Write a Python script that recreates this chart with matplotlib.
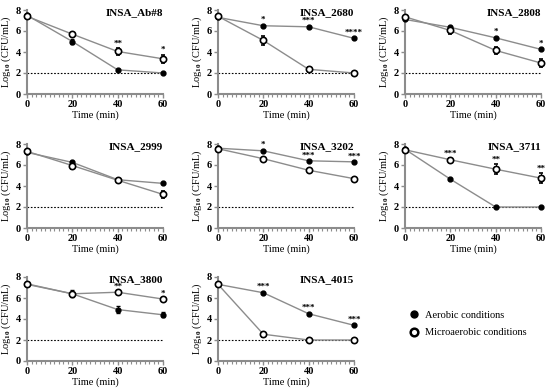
import matplotlib
matplotlib.use("Agg")
import matplotlib.pyplot as plt
from matplotlib.lines import Line2D

plt.rcParams['font.family'] = 'Liberation Serif'
plt.rcParams['font.weight'] = 'bold'
plt.rcParams['mathtext.fontset'] = 'custom'
plt.rcParams['mathtext.rm'] = 'Liberation Serif:bold'
plt.rcParams['mathtext.default'] = 'rm'

times = [0, 20, 40, 60]

strains = ["INSA_Ab#8", "INSA_2680", "INSA_2808",
           "INSA_2999", "INSA_3202", "INSA_3711",
           "INSA_3800", "INSA_4015"]

aerobic = [
    [7.5, 5.0, 2.3, 2.0],
    [7.3, 6.5, 6.4, 5.3],
    [7.1, 6.35, 5.35, 4.25],
    [7.2, 6.25, 4.6, 4.25],
    [7.6, 7.35, 6.4, 6.3],
    [7.5, 4.65, 2.0, 2.0],
    [7.3, 6.4, 4.9, 4.4],
    [7.3, 6.5, 4.5, 3.4],
]
aerobic_err = [
    [0, 0.25, 0.05, 0],
    [0, 0.1, 0.1, 0.1],
    [0, 0.1, 0.1, 0.1],
    [0, 0.1, 0.1, 0.05],
    [0, 0.1, 0.05, 0.05],
    [0, 0.05, 0, 0],
    [0, 0.35, 0.35, 0.25],
    [0, 0.1, 0.1, 0.1],
]
micro = [
    [7.4, 5.7, 4.05, 3.35],
    [7.4, 5.1, 2.35, 2.0],
    [7.35, 6.05, 4.15, 2.95],
    [7.3, 5.95, 4.55, 3.2],
    [7.55, 6.6, 5.5, 4.7],
    [7.45, 6.5, 5.6, 4.75],
    [7.35, 6.4, 6.55, 5.9],
    [7.3, 2.55, 2.0, 2.0],
]
micro_err = [
    [0.1, 0.1, 0.3, 0.4],
    [0.1, 0.4, 0.25, 0],
    [0.1, 0.3, 0.35, 0.35],
    [0.1, 0.3, 0.1, 0.35],
    [0.05, 0.1, 0.1, 0.1],
    [0.05, 0.15, 0.5, 0.5],
    [0.05, 0.1, 0.1, 0.1],
    [0.05, 0.25, 0, 0],
]
# significance marks (time, label)
stars = [
    {40: "**", 60: "*"},
    {20: "*", 40: "***", 60: "****"},
    {40: "*", 60: "*"},
    {},
    {20: "*", 40: "***", 60: "***"},
    {20: "***", 40: "**", 60: "**"},
    {40: "**", 60: "*"},
    {20: "***", 40: "***", 60: "***"},
]

W, H = 550, 388
fig = plt.figure(figsize=(W / 100, H / 100), dpi=100)

col_left = [27, 218, 405]
row_top = [10, 144, 277]
aw, ah = 136, 84

gray = "#8c8c8c"

for i, name in enumerate(strains):
    r, c = divmod(i, 3)
    ax = fig.add_axes([col_left[c] / W, 1 - (row_top[r] + ah) / H, aw / W, ah / H])
    ax.axhline(2, color="black", ls=(0, (1.5, 1.5)), lw=0.8, zorder=1)
    ax.errorbar(times, aerobic[i], yerr=aerobic_err[i], color=gray, lw=1,
                marker="o", ms=3.5, mfc="black", mec="black",
                ecolor="black", elinewidth=0.7, capsize=1.5, clip_on=False, zorder=3)
    ax.errorbar(times, micro[i], yerr=micro_err[i], color=gray, lw=1,
                marker="o", ms=4.5, mfc="white", mec="black", mew=1.2,
                ecolor="black", elinewidth=0.7, capsize=1.5, clip_on=False, zorder=4)
    for t, s in stars[i].items():
        k = times.index(t)
        top = max(aerobic[i][k] + aerobic_err[i][k], micro[i][k] + micro_err[i][k])
        ax.text(t, top + 0.05, s, ha="center", va="bottom", fontsize=6.5)
    ax.set_xlim(0, 60)
    ax.set_ylim(0, 8)
    ax.set_xticks([0, 20, 40, 60])
    ax.set_xticks(range(0, 61, 2), minor=True)
    ax.set_yticks([0, 2, 4, 6, 8])
    for side in ["top", "right"]:
        ax.spines[side].set_visible(False)
    for side in ["left", "bottom"]:
        ax.spines[side].set_color(gray)
        ax.spines[side].set_linewidth(1.5)
    ax.tick_params(axis="both", which="major", length=3, width=1, color=gray,
                   labelsize=7.5, pad=1.5)
    ax.tick_params(axis="x", which="minor", length=2, width=0.8, color=gray)
    ax.set_xlabel("Time (min)", fontsize=7.5, labelpad=1)
    ax.set_ylabel("Log$_{10}$ (CFU/mL)", fontsize=7.5, labelpad=2)
    ax.text(60, 7.55, name, ha="right", va="baseline", fontsize=8)

handles = [
    Line2D([], [], ls="none", marker="o", ms=5, mfc="black", mec="black"),
    Line2D([], [], ls="none", marker="o", ms=5.5, mfc="white", mec="black", mew=1.8),
]
fig.legend(handles, ["Aerobic conditions", "Microaerobic conditions"],
           loc="upper left", bbox_to_anchor=(398 / W, 1 - 301 / H),
           frameon=False, prop={"size": 7.5, "weight": "normal"},
           handletextpad=0.5, labelspacing=0.8, handlelength=1.2)

fig.savefig("out.png", dpi=100)
